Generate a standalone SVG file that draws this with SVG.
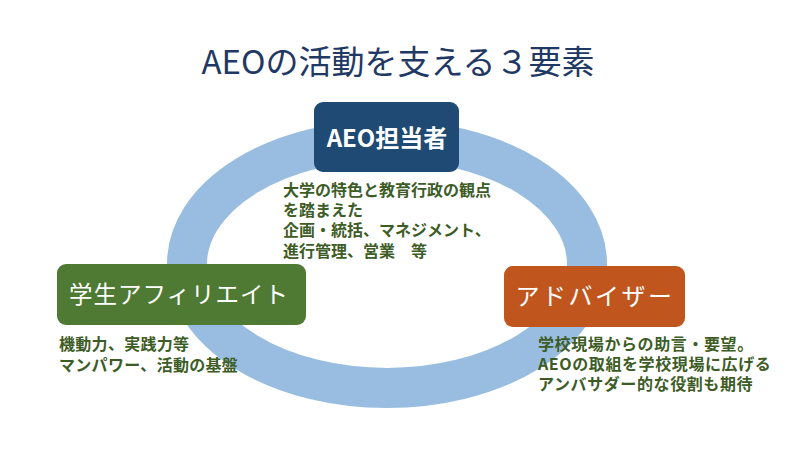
<svg xmlns="http://www.w3.org/2000/svg" width="799" height="450" viewBox="0 0 799 450">
<style>
.title{font-family:"Noto Sans CJK JP","Noto Sans",sans-serif;font-size:33px;fill:#1f3864;}
.lbl{font-family:"Noto Sans CJK JP","Noto Sans",sans-serif;fill:#ffffff;}
.desc{font-family:"Noto Sans CJK JP","Noto Sans",sans-serif;font-size:16px;font-weight:bold;fill:#3d5c26;}
</style>
<rect width="799" height="450" fill="#ffffff"/>
<text class="title" x="398" y="74" text-anchor="middle">AEOの活動を支える３要素</text>
<g id="connectors">
<ellipse cx="387" cy="264" rx="200" ry="124" fill="none" stroke="#98bde0" stroke-width="40"/>
</g>
<g id="node-aeo">
<rect x="314" y="102" width="145" height="70" rx="9" fill="#1e4a74"/>
<text class="lbl" x="387" y="147" text-anchor="middle" font-size="24" font-weight="bold">AEO担当者</text>
</g>
<g id="node-student">
<rect x="57" y="264" width="249" height="61" rx="9" fill="#4e7a33"/>
<text class="lbl" x="179" y="303" text-anchor="middle" font-size="23.5" letter-spacing="1">学生アフィリエイト</text>
</g>
<g id="node-advisor">
<rect x="504" y="266" width="181" height="61" rx="9" fill="#c0561e"/>
<text class="lbl" x="595" y="305" text-anchor="middle" font-size="24" letter-spacing="2.5">アドバイザー</text>
</g>
<g id="desc-aeo">
<text class="desc" font-size="15.7"><tspan x="283" y="196">大学の特色と教育行政の観点</tspan><tspan x="283" y="216">を踏まえた</tspan><tspan x="283" y="236">企画・統括、マネジメント、</tspan><tspan x="283" y="257">進行管理、営業　等</tspan></text>
</g>
<g id="desc-student">
<text class="desc" font-size="16.5" letter-spacing="0.3"><tspan x="59" y="350">機動力、実践力等</tspan><tspan x="59" y="371">マンパワー、活動の基盤</tspan></text>
</g>
<g id="desc-advisor">
<text class="desc" font-size="16.5" letter-spacing="0.6"><tspan x="538" y="350">学校現場からの助言・要望。</tspan><tspan x="538" y="370">AEOの取組を学校現場に広げる</tspan><tspan x="538" y="390">アンバサダー的な役割も期待</tspan></text>
</g>
</svg>
